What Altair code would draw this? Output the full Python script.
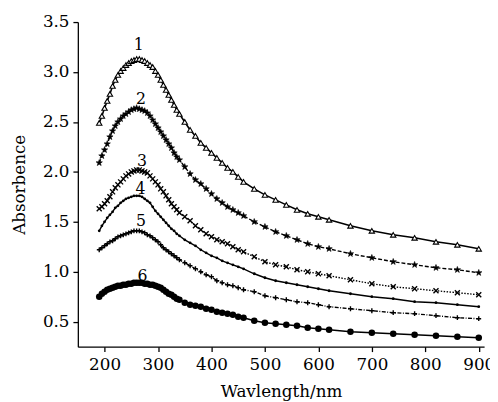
import altair as alt
import pandas as pd

WAVELENGTH = (list(range(190, 340, 5)) + list(range(340, 470, 10))
              + list(range(480, 640, 20)) + list(range(660, 940, 40)))

A1 = [2.49, 2.56, 2.64, 2.71, 2.78, 2.86, 2.92, 2.97, 3.01, 3.04, 3.07, 3.09, 3.11, 3.12, 3.13,
      3.13, 3.12, 3.11, 3.09, 3.07, 3.05, 3.01, 2.97, 2.92, 2.87, 2.82, 2.77, 2.72, 2.67, 2.62,
      2.58, 2.50, 2.42, 2.36, 2.29, 2.24, 2.19, 2.14, 2.09, 2.04, 2.00, 1.95, 1.90,
      1.83, 1.77, 1.72, 1.67, 1.62, 1.58, 1.55, 1.52,
      1.46, 1.41, 1.37, 1.34, 1.30, 1.27, 1.23]
A2 = [2.09, 2.16, 2.22, 2.28, 2.35, 2.41, 2.46, 2.50, 2.53, 2.56, 2.58, 2.60, 2.62, 2.63, 2.64,
      2.63, 2.62, 2.61, 2.59, 2.56, 2.52, 2.48, 2.44, 2.40, 2.36, 2.32, 2.28, 2.24, 2.19, 2.15,
      2.12, 2.05, 1.98, 1.92, 1.88, 1.83, 1.78, 1.73, 1.69, 1.65, 1.62, 1.59, 1.56,
      1.50, 1.45, 1.40, 1.36, 1.32, 1.28, 1.25, 1.23,
      1.18, 1.14, 1.10, 1.07, 1.04, 1.02, 0.99]
A3 = [1.63, 1.65, 1.68, 1.71, 1.75, 1.80, 1.84, 1.87, 1.90, 1.93, 1.96, 1.98, 2.00, 2.01, 2.02,
      2.02, 2.01, 2.00, 1.99, 1.96, 1.93, 1.90, 1.87, 1.83, 1.80, 1.76, 1.72, 1.68, 1.65, 1.62,
      1.59, 1.55, 1.51, 1.46, 1.42, 1.38, 1.35, 1.32, 1.30, 1.28, 1.25, 1.22, 1.20,
      1.15, 1.10, 1.07, 1.05, 1.02, 1.00, 0.98, 0.96,
      0.92, 0.88, 0.85, 0.83, 0.81, 0.79, 0.77]
A4 = [1.41, 1.46, 1.50, 1.54, 1.57, 1.60, 1.64, 1.66, 1.69, 1.71, 1.73, 1.74, 1.75, 1.76, 1.76,
      1.76, 1.75, 1.73, 1.71, 1.69, 1.65, 1.61, 1.58, 1.55, 1.52, 1.49, 1.46, 1.43, 1.41, 1.38,
      1.36, 1.32, 1.29, 1.26, 1.22, 1.19, 1.16, 1.14, 1.11, 1.09, 1.07, 1.05, 1.03,
      0.98, 0.94, 0.91, 0.89, 0.87, 0.85, 0.83, 0.81,
      0.78, 0.75, 0.73, 0.70, 0.69, 0.67, 0.65]
A5 = [1.22, 1.24, 1.26, 1.28, 1.30, 1.31, 1.33, 1.35, 1.36, 1.37, 1.38, 1.39, 1.40, 1.41, 1.41,
      1.41, 1.40, 1.39, 1.37, 1.36, 1.34, 1.32, 1.30, 1.27, 1.24, 1.22, 1.20, 1.18, 1.16, 1.14,
      1.12, 1.09, 1.06, 1.03, 1.00, 0.97, 0.95, 0.91, 0.89, 0.87, 0.86, 0.84, 0.82,
      0.80, 0.76, 0.74, 0.72, 0.70, 0.69, 0.67, 0.65,
      0.63, 0.61, 0.59, 0.58, 0.56, 0.54, 0.53]
A6 = [0.75, 0.78, 0.80, 0.82, 0.83, 0.84, 0.85, 0.86, 0.86, 0.87, 0.87, 0.88, 0.88, 0.89, 0.89,
      0.89, 0.89, 0.88, 0.88, 0.87, 0.87, 0.86, 0.85, 0.84, 0.82, 0.80, 0.78, 0.77, 0.75, 0.73,
      0.72, 0.69, 0.67, 0.66, 0.65, 0.63, 0.62, 0.60, 0.59, 0.58, 0.57, 0.55, 0.54,
      0.51, 0.49, 0.48, 0.47, 0.46, 0.44, 0.43, 0.42,
      0.40, 0.39, 0.38, 0.37, 0.36, 0.35, 0.34]

LABELS = ["1", "2", "3", "4", "5", "6"]
LABEL_X = [264, 268, 270, 267, 268, 271]
LABEL_Y = [3.22, 2.68, 2.06, 1.78, 1.46, 0.91]

X_TICKS = [200, 300, 400, 500, 600, 700, 800, 900]
Y_TICKS = [0.5, 1.0, 1.5, 2.0, 2.5, 3.0, 3.5]

FONT = "DejaVu Serif"
STAR = ("M0,-1L0.235,-0.324L0.951,-0.309L0.380,0.124L0.588,0.809L0,0.4"
        "L-0.588,0.809L-0.380,0.124L-0.951,-0.309L-0.235,-0.324Z")
XMARK = "M-1,-1L1,1M-1,1L1,-1"
PLUS = "M-1,0L1,0M0,-1L0,1"

xs = alt.Scale(domain=[150, 910], nice=False, zero=False)
ys = alt.Scale(domain=[0.25, 3.5], nice=False, zero=False)
xenc = alt.X("w:Q", scale=xs,
             axis=alt.Axis(title="Wavlength/nm", values=X_TICKS, format="d"))
yenc = alt.Y("a:Q", scale=ys,
             axis=alt.Axis(title="Absorbence", values=Y_TICKS, format=".1f"))

styles = [
    (A1, [], 1.6, dict(shape="triangle-up", filled=True, fill="white", stroke="black", size=30, strokeWidth=1.1)),
    (A2, [4, 2], 1.4, dict(shape=STAR, filled=True, fill="black", stroke="black", size=45, strokeWidth=0.6)),
    (A3, [1.5, 1.5], 1.4, dict(shape=XMARK, filled=False, stroke="black", size=26, strokeWidth=1.4)),
    (A4, [], 1.4, dict(shape="circle", filled=True, fill="black", stroke="black", size=8, strokeWidth=0)),
    (A5, [4, 1.5, 1, 1.5], 1.4, dict(shape=PLUS, filled=False, stroke="black", size=24, strokeWidth=1.4)),
    (A6, [], 1.6, dict(shape="circle", filled=True, fill="black", stroke="black", size=44, strokeWidth=0)),
]

layers = []
for vals, dash, lw, pprops in styles:
    df = pd.DataFrame({"w": WAVELENGTH, "a": vals})
    line_kw = dict(color="black", strokeWidth=lw)
    if dash:
        line_kw["strokeDash"] = dash
    layers.append(alt.Chart(df).mark_line(**line_kw).encode(x=xenc, y=yenc))
    layers.append(alt.Chart(df).mark_point(opacity=1, **pprops).encode(x=xenc, y=yenc))

lab_df = pd.DataFrame({"w": LABEL_X, "a": LABEL_Y, "t": LABELS})
layers.append(alt.Chart(lab_df).mark_text(font=FONT, fontSize=16, color="black",
                                          baseline="alphabetic", align="center")
              .encode(x=xenc, y=yenc, text="t:N"))

chart = alt.layer(*layers).properties(
    width=413, height=330,
    padding={"left": 71, "top": 11, "right": 6, "bottom": 56},
    autosize=alt.AutoSizeParams(type="none"),
).configure_view(stroke=None).configure_axis(
    grid=False, domainColor="black", tickColor="black", labelColor="black",
    titleColor="black", labelFont=FONT, titleFont=FONT, labelFontSize=17,
    titleFontSize=17, titleFontWeight="normal", tickSize=5, domainWidth=1.3,
    tickWidth=1.3,
).configure_axisX(labelPadding=5, titlePadding=12).configure_axisY(labelPadding=4, titlePadding=14)

chart.save("out.html", embed_options={"renderer": "svg", "actions": False})
